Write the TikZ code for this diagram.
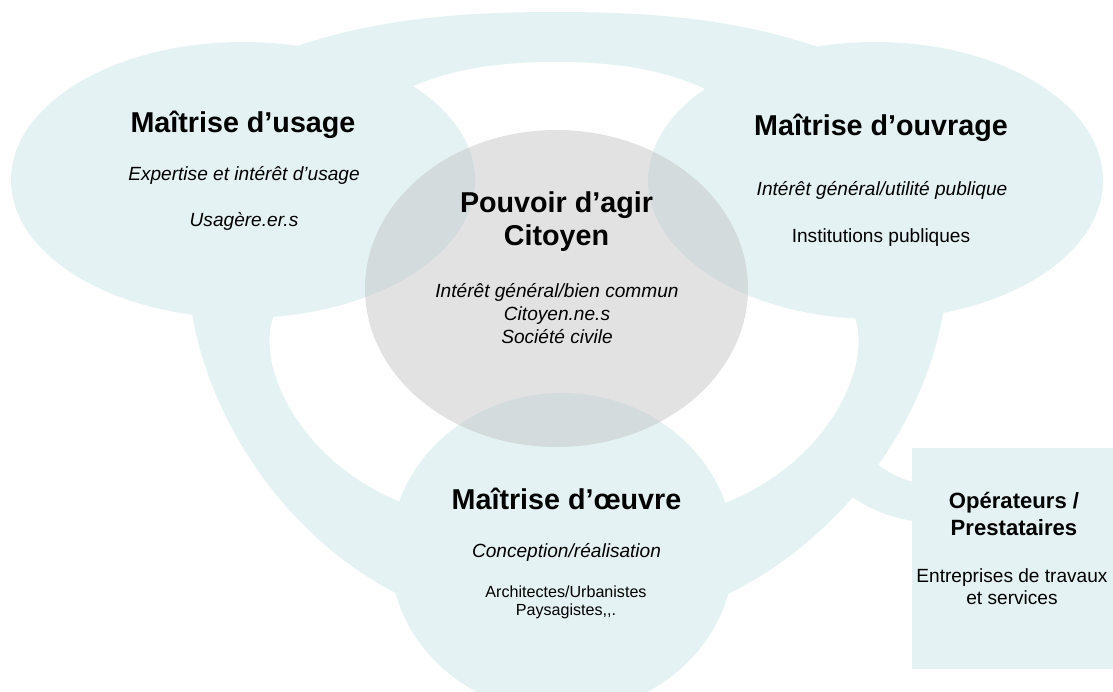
\documentclass[tikz,border=0pt]{standalone}
\usepackage{fontspec}
\setmainfont{Liberation Sans}
\usetikzlibrary{shapes.geometric}
\definecolor{ActeursCyan}{RGB}{228,242,243}
\definecolor{ActeursGris}{RGB}{198,198,198}
\definecolor{ActeursNoir}{RGB}{0,0,0}

\begin{document}
\begin{tikzpicture}[x=1pt,y=-1pt,
		zone/.style={fill=ActeursCyan, draw=none},
		pole/.style={ellipse, fill=ActeursCyan, draw=none, inner sep=0pt},
		txt/.style={anchor=base, inner sep=0pt, align=center, text=ActeursNoir},
		titre/.style={txt, font=\fontsize{28.7}{33}\selectfont\bfseries},
		sous/.style={txt, font=\fontsize{19.1}{23}\selectfont\itshape},
		plain/.style={txt, font=\fontsize{19.1}{23}\selectfont}]
		\clip (0,0) rectangle (1113,691);
		% anneau
		\fill[zone, even odd rule]
		(260,60) .. controls (360,18) and (460,12) .. (556,12)
		.. controls (652,12) and (752,18) .. (852,60)
		-- (945,300) .. controls (930,420) and (840,545) .. (715,600)
		-- (410,600) .. controls (290,545) and (205,420) .. (190,300) -- cycle
		(400,92) .. controls (450,68) and (500,62) .. (556,62)
		.. controls (612,62) and (662,68) .. (712,92)
		-- (848,305) .. controls (880,345) and (840,460) .. (720,505)
		-- (408,505) .. controls (288,460) and (248,345) .. (280,305) -- cycle;
		% lien vers les operateurs
		\fill[zone]
		(840,480) -- (877,464) .. controls (890,473) and (900,479) .. (914,482)
		-- (914,521) .. controls (890,518) and (868,508) .. (852,497) -- cycle;
		\node[pole, minimum width=464pt, minimum height=276pt] (usage) at (243,180) {};
		\node[pole, minimum width=455pt, minimum height=277pt] (ouvrage) at (875.5,180.5) {};
		\node[pole, minimum width=344pt, minimum height=320pt] (oeuvre) at (562,553) {};
		\node[ellipse, fill=ActeursGris, fill opacity=0.5, inner sep=0pt,
		minimum width=383pt, minimum height=317pt] (citoyen) at (556.5,288.5) {};
		\node[fill=ActeursCyan, inner sep=0pt, minimum width=201pt,
		minimum height=221pt] (operateurs) at (1012.5,558.5) {};
		% textes
		\node[titre] (usageT) at (243,132) {Maîtrise d’usage};
		\node[sous] (usageA) at (244,180) {Expertise et intérêt d’usage};
		\node[sous] (usageB) at (244,226) {Usagère.er.s};
		\node[titre] (ouvrageT) at (881,135) {Maîtrise d’ouvrage};
		\node[sous] (ouvrageA) at (882,195) {Intérêt général/utilité publique};
		\node[plain] (ouvrageB) at (881,242) {Institutions publiques};
		\node[titre] (citoyenT) at (556.5,212) {Pouvoir d’agir};
		\node[titre] (citoyenU) at (556.5,245) {Citoyen};
		\node[sous] (citoyenA) at (557,297) {Intérêt général/bien commun};
		\node[sous] (citoyenB) at (557,320) {Citoyen.ne.s};
		\node[sous] (citoyenC) at (557,343) {Société civile};
		\node[titre] (oeuvreT) at (566.5,509) {Maîtrise d’œuvre};
		\node[sous] (oeuvreA) at (566.5,557) {Conception/réalisation};
		\node[txt, font=\fontsize{16.1}{18}\selectfont] (oeuvreB) at (566,597) {Architectes/Urbanistes};
		\node[txt, font=\fontsize{16.1}{18}\selectfont] (oeuvreC) at (566,615) {Paysagistes,{},.};
		\node[txt, font=\fontsize{22.1}{27}\selectfont\bfseries] (operateursT) at (1014,508) {Opérateurs /};
		\node[txt, font=\fontsize{22.1}{27}\selectfont\bfseries] (operateursU) at (1014,535) {Prestataires};
		\node[plain] (operateursA) at (1012,582) {Entreprises de travaux};
		\node[plain] (operateursB) at (1012,604) {et services};
	\end{tikzpicture}
\end{document}
